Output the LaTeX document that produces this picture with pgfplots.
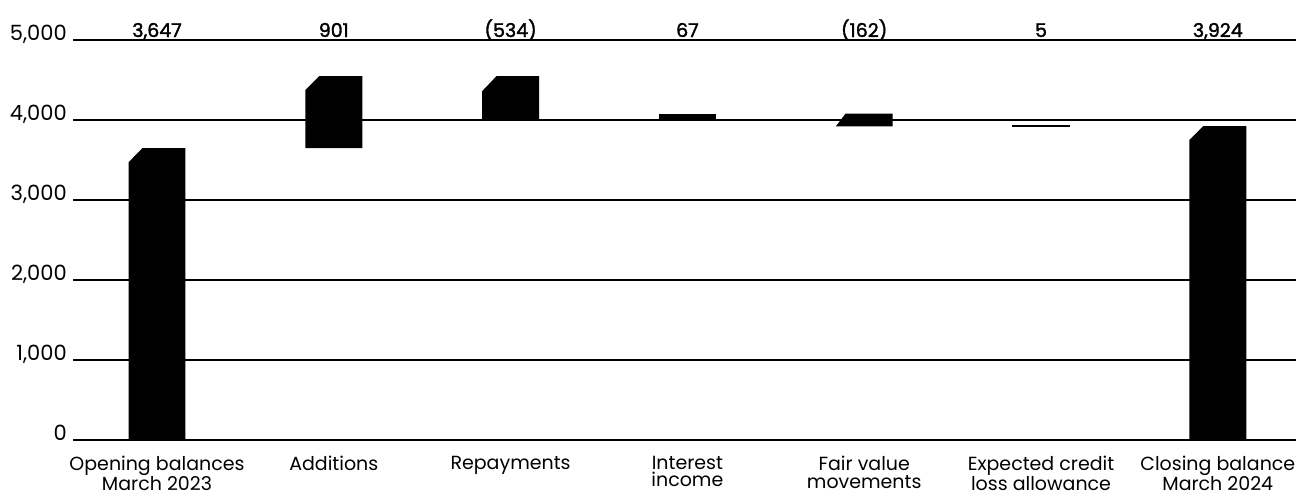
\documentclass[border=0pt]{standalone}
\usepackage{pgfplots}
\pgfplotsset{compat=1.18}
\usepackage{fontspec}
\setmainfont{Poppins}
\newfontfamily\medfont{Poppins}[FakeBold=1.8]

\pgfplotstableread{
x  y    label
0  5000 3,647
1  5000 901
2  5000 (534)
3  5000 67
4  5000 (162)
5  5000 5
6  5000 3,924
}\valuelabels

\begin{document}
\begin{tikzpicture}[x=1pt,y=1pt]
\begin{axis}[
  at={(0,0)}, anchor=south west,
  scale only axis, width=1223pt, height=400pt,
  xmin=-0.475, xmax=6.442, ymin=0, ymax=5000,
  clip=false,
  axis line style={draw=none},
  major tick length=0pt,
  ymajorgrids, grid style={black, line width=1.1pt},
  ytick={0,1000,2000,3000,4000,5000},
  yticklabels={0,{1,000},{2,000},{3,000},{4,000},{5,000}},
  yticklabel style={anchor=base east, inner sep=0pt, xshift=-6pt,
    font=\fontsize{21}{21}\selectfont},
  xtick={0,1,2,3,4,5,6},
  xticklabels={{Opening balances\\March 2023},{Additions},{Repayments},
    {Interest\\income},{Fair value\\movements},{Expected credit\\loss allowance},
    {Closing balance\\March 2024}},
  xticklabel style={align=center, anchor=north, inner sep=0pt, yshift=-16pt,
    font=\fontsize{19}{17.5}\selectfont},
]
% Opening balance 0 -> 3647
\addplot[fill=black, draw=none] coordinates
  {(-0.161,0) (0.161,0) (0.161,3647) (-0.082,3647) (-0.161,3472)} -- cycle;
% Additions 3647 -> 4548
\addplot[fill=black, draw=none] coordinates
  {(0.839,3647) (1.161,3647) (1.161,4548) (0.918,4548) (0.839,4373)} -- cycle;
% Repayments 4548 -> 4014
\addplot[fill=black, draw=none] coordinates
  {(1.839,4014) (2.161,4014) (2.161,4548) (1.92,4548) (1.839,4360)} -- cycle;
% Interest income 4014 -> 4081
\addplot[fill=black, draw=none] coordinates
  {(2.839,4014) (3.161,4014) (3.161,4081) (2.839,4081)} -- cycle;
% Fair value movements 4081 -> 3919
\addplot[fill=black, draw=none] coordinates
  {(3.839,3919) (4.161,3919) (4.161,4081) (3.895,4081)} -- cycle;
% Expected credit loss allowance 3919 -> 3924
\addplot[fill=black, draw=black, line width=2pt] coordinates
  {(4.839,3919) (5.161,3919) (5.161,3924) (4.839,3924)} -- cycle;
% Closing balance 0 -> 3924
\addplot[fill=black, draw=none] coordinates
  {(5.839,0) (6.161,0) (6.161,3924) (5.918,3924) (5.839,3749)} -- cycle;
% value labels
\addplot[draw=none, mark=none, nodes near coords, point meta=explicit symbolic,
  nodes near coords align={center},
  every node near coord/.append style={anchor=base, inner sep=0pt, yshift=3pt,
    font=\medfont\fontsize{19}{19}\selectfont}]
  table[x=x, y=y, meta=label] {\valuelabels};
\end{axis}
\pgfresetboundingbox
\path[use as bounding box] (-73pt,-56pt) rectangle (1223pt,440pt);
\end{tikzpicture}
\end{document}
